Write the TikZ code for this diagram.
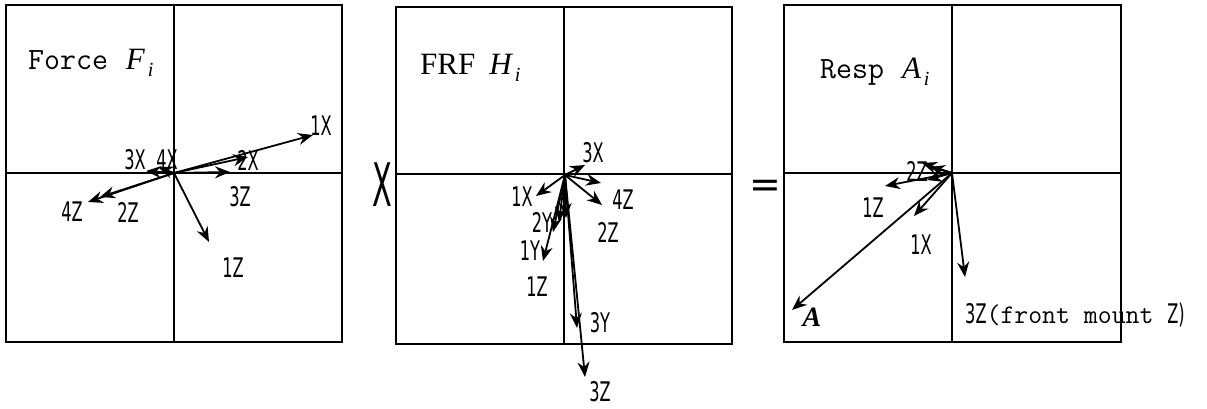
\documentclass[tikz,border=0pt]{standalone}
\usepackage{fontspec}
\usepackage{graphicx}
\setmainfont{Liberation Serif}
\newfontfamily\gth[FakeStretch=0.6]{DejaVu Sans}
\usetikzlibrary{arrows.meta}
\tikzset{
  frame/.style={line width=2pt},
  vec/.style={line width=1.8pt,-{Stealth[length=15pt,width=12pt,inset=5pt]}},
  lab/.style={font=\gth\fontsize{27}{27}\selectfont,inner sep=0pt},
  ttl/.style={anchor=base west,inner sep=0pt,font=\fontsize{31}{31}\selectfont}
}
\newcommand{\subi}{\hspace{3pt}\raisebox{-7pt}{\fontsize{20}{20}\selectfont\itshape i}}
\begin{document}
\begin{tikzpicture}[x=1pt,y=-1pt]
\useasboundingbox (0,0) rectangle (1207,409);
% ---------- frames ----------
\draw[frame] (6,5) rectangle (342,342);
\draw[frame] (174,5) -- (174,342) (6,173) -- (342,173);
\draw[frame] (396,7) rectangle (732,344);
\draw[frame] (564,7) -- (564,344) (396,174) -- (732,174);
\draw[frame] (784,5) rectangle (1121,342);
\draw[frame] (952,5) -- (952,342) (784,173) -- (1121,173);
% ---------- titles ----------
\node[ttl] (t1) at (28,70) {\ttfamily Force\hspace{2pt} \rmfamily\itshape F\subi};
\node[ttl] (t2) at (420,75) {FRF\hspace{14pt}\itshape H\subi};
\node[ttl] (t3) at (820,79) {\ttfamily Resp\hspace{2pt} \rmfamily\itshape A\subi};
% ---------- operators ----------
\node[inner sep=0pt] (times) at (382,185) {\gth\fontsize{60}{60}\selectfont\scalebox{0.8}[1]{X}};
\node[inner sep=0pt] (eq) at (765,189) {\fontspec{DejaVu Sans}\fontsize{38}{38}\selectfont =};
% ---------- panel 1: force ----------
\coordinate (O1) at (174,173);
\coordinate (f1x) at (313,135);
\coordinate (f2x) at (248,157);
\coordinate (f3z) at (230,172);
\coordinate (f3x) at (146,171);
\coordinate (f4x) at (158,167);
\coordinate (f4z) at (88,202);
\coordinate (f2z) at (100,197);
\coordinate (f1z) at (209,242);
\foreach \t in {f1x,f2x,f3z,f3x,f4x,f4z,f2z,f1z} \draw[vec] (O1) -- (\t);
\node[lab] (l1x) at (321,126) {1X};
\node[lab] (l2x) at (248,160) {2X};
\node[lab] (l3z) at (240,197) {3Z};
\node[lab] (l3x) at (135,160) {3X};
\node[lab] (l4x) at (167,160) {4X};
\node[lab] (l4z) at (72,212) {4Z};
\node[lab] (l2z) at (128,212) {2Z};
\node[lab] (l1z) at (233,268) {1Z};
% ---------- panel 2: FRF ----------
\coordinate (O2) at (565,175);
\coordinate (h3x) at (585,165);
\coordinate (h4z) at (601,183);
\coordinate (h2z) at (602,205);
\coordinate (h1x) at (536,196);
\coordinate (h2y) at (553,232);
\coordinate (h1y) at (543,261);
\coordinate (ha) at (559,222);
\coordinate (hb) at (566,218);
\coordinate (h3y) at (577,328);
\coordinate (h3z) at (585,377);
\foreach \t in {h3x,h4z,h2z,h1x,h2y,h1y,ha,hb,h3y,h3z} \draw[vec] (O2) -- (\t);
\node[lab] (m3x) at (593,153) {3X};
\node[lab] (m4z) at (623,200) {4Z};
\node[lab] (m2z) at (608,232) {2Z};
\node[lab] (m1x) at (522,197) {1X};
\node[lab] (m2y) at (542,222) {2Y};
\node[lab] (m1y) at (530,251) {1Y};
\node[lab] (m1z) at (537,287) {1Z};
\node[lab] (m3y) at (600,323) {3Y};
\node[lab] (m3z) at (600,392) {3Z};
% ---------- panel 3: response ----------
\coordinate (O3) at (952,173);
\coordinate (rA) at (792,310);
\coordinate (r3z) at (965,277);
\coordinate (r1x) at (914,216);
\coordinate (r1z) at (885,186);
\coordinate (ra) at (922,163);
\coordinate (rb) at (930,167);
\coordinate (rc) at (927,180);
\foreach \t in {rA,r3z,r1x,r1z,ra,rb,rc} \draw[vec] (O3) -- (\t);
\node[inner sep=0pt] (nA) at (812,317) {\fontsize{28}{28}\selectfont\bfseries\itshape A};
\node[lab,anchor=west] (n3z) at (965,315) {3Z{\ttfamily\fontsize{27}{27}\selectfont(front mount }Z)};
\node[lab] (n1x) at (921,245) {1X};
\node[lab] (n1z) at (873,208) {1Z};
\node[lab] (n2z) at (917,171) {2Z};
\end{tikzpicture}
\end{document}
